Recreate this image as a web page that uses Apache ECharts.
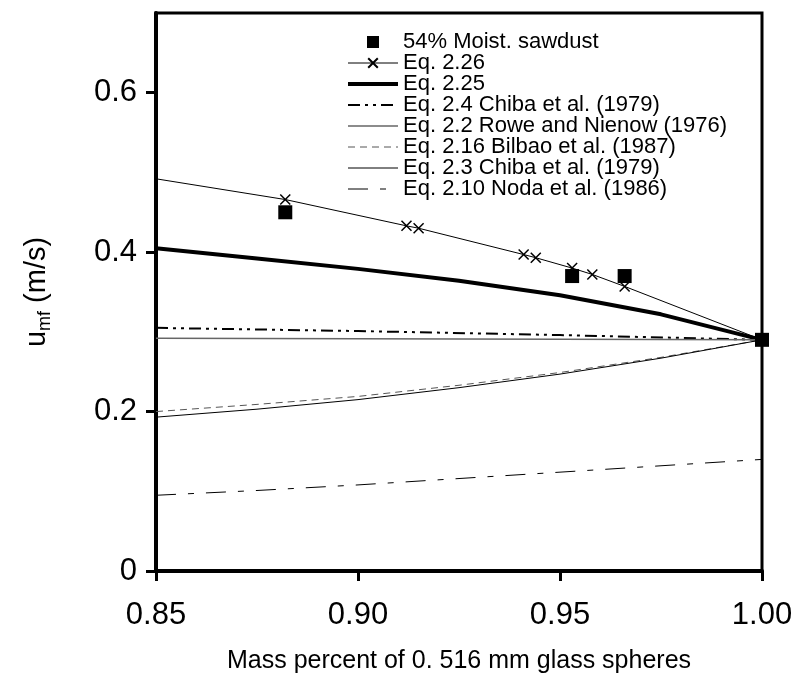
<!DOCTYPE html>
<html>
<head>
<meta charset="utf-8">
<script src="https://cdn.jsdelivr.net/npm/echarts@6/dist/echarts.min.js"></script>
<style>
  html, body { margin: 0; padding: 0; background: #fff; }
  #chart { width: 802px; height: 679px; }
</style>
</head>
<body>
<div id="chart"></div>
<script>
// measured points (54% moist sawdust)
const sawdust = [[0.882, 0.45], [0.953, 0.37], [0.966, 0.37], [1.0, 0.29]];

// model curves
const eq226 = [[0.85, 0.492], [0.882, 0.466], [0.912, 0.433], [0.915, 0.43], [0.941, 0.397],
  [0.944, 0.393], [0.953, 0.38], [0.958, 0.372], [0.966, 0.357], [1.0, 0.29]];
const eq225 = [[0.85, 0.405], [0.875, 0.392], [0.9, 0.379], [0.925, 0.364], [0.95, 0.346], [0.975, 0.322], [1.0, 0.29]];
const eq24 = [[0.85, 0.305], [0.9, 0.301], [0.95, 0.296], [1.0, 0.29]];
const eq22 = [[0.85, 0.292], [0.925, 0.291], [1.0, 0.29]];
const eq216 = [[0.85, 0.2], [0.875, 0.209], [0.9, 0.219], [0.925, 0.233], [0.95, 0.249], [0.975, 0.268], [1.0, 0.29]];
const eq23 = [[0.85, 0.193], [0.875, 0.203], [0.9, 0.215], [0.925, 0.23], [0.95, 0.247], [0.975, 0.267], [1.0, 0.29]];
const eq210 = [[0.85, 0.095], [0.875, 0.101], [0.9, 0.108], [0.925, 0.116], [0.95, 0.124], [0.975, 0.132], [1.0, 0.14]];

// 2.26 only has markers at the computed points, not at the ends
const crossIdx = [1, 2, 3, 4, 5, 6, 7, 8];

const yTicks = [0, 0.2, 0.4, 0.6];

const FONT = "'Liberation Sans', Arial, sans-serif";
const CROSS = "path://M0,0L10,10M10,0L0,10";

const chart = echarts.init(document.getElementById("chart"), null, { renderer: "canvas" });

const lineSeries = (name, data, lineStyle) => ({
  name,
  type: "line",
  data,
  symbol: "none",
  lineStyle,
  itemStyle: { color: lineStyle.color },
  z: 3,
});

// legend samples: line width per entry (legend would force 2px otherwise)
const legendLine = (name, width) => ({ name, lineStyle: { width } });

chart.setOption({
  animation: false,
  textStyle: { fontFamily: FONT },
  grid: {
    left: 156, right: 40, top: 13, bottom: 107,
    show: true, borderColor: "#000", borderWidth: 3,
  },
  // legend: plain line samples, symbols only for the data points and eq 2.26
  legend: {
    orient: "vertical",
    left: 341, top: 26,
    itemWidth: 50, itemHeight: 12, itemGap: -1,
    itemStyle: { opacity: 0 },
    textStyle: { fontSize: 22, lineHeight: 20, color: "#000", fontFamily: FONT },
    data: [
      { name: "54% Moist. sawdust", icon: "path://M0,0h10v10h-10z", itemStyle: { opacity: 1 } },
      { name: "Eq. 2.26", itemStyle: { opacity: 1 }, lineStyle: { width: 1 } },
      legendLine("Eq. 2.25", 4),
      legendLine("Eq. 2.4 Chiba et al. (1979)", 2),
      legendLine("Eq. 2.2 Rowe and Nienow (1976)", 1.5),
      legendLine("Eq. 2.16 Bilbao et al. (1987)", 1),
      legendLine("Eq. 2.3 Chiba et al. (1979)", 1),
      legendLine("Eq. 2.10 Noda et al. (1986)", 1),
    ],
  },
  xAxis: {
    type: "value",
    min: 0.85, max: 1.0, interval: 0.05,
    name: "Mass percent of 0. 516 mm glass spheres",
    nameLocation: "middle", nameGap: 78,
    nameTextStyle: { fontSize: 25, color: "#000", fontFamily: FONT },
    axisLine: { show: true, lineStyle: { color: "#000", width: 4 } },
    axisTick: { show: true, length: 10, lineStyle: { color: "#000", width: 3 } },
    axisLabel: { fontSize: 31, color: "#000", margin: 29, formatter: v => v.toFixed(2) },
    splitLine: { show: false },
  },
  yAxis: {
    type: "value",
    min: 0, max: 0.7,
    name: "{u|u}{s|mf}{u| (m/s)}",
    nameLocation: "middle", nameGap: 102, nameRotate: 90,
    nameTextStyle: {
      color: "#000", fontFamily: FONT,
      rich: {
        u: { fontSize: 29, lineHeight: 34, verticalAlign: "middle", color: "#000", fontFamily: FONT },
        s: { fontSize: 18, lineHeight: 34, verticalAlign: "bottom", padding: [12, 0, 0, 0], color: "#000", fontFamily: FONT },
      },
    },
    axisLine: { show: true, lineStyle: { color: "#000", width: 4 } },
    axisTick: { show: true, length: 10, customValues: yTicks, lineStyle: { color: "#000", width: 3 } },
    axisLabel: { fontSize: 31, color: "#000", margin: 19, customValues: yTicks, formatter: v => String(v) },
    splitLine: { show: false },
  },
  series: [
    {
      name: "54% Moist. sawdust",
      type: "scatter",
      data: sawdust,
      symbol: "rect",
      symbolSize: 14,
      clip: false,
      itemStyle: { color: "#000", opacity: 1 },
      z: 5,
    },
    {
      name: "Eq. 2.26",
      type: "line",
      data: eq226.map((p, i) => (crossIdx.includes(i) ? p : { value: p, symbol: "none" })),
      symbol: CROSS,
      symbolSize: 10,
      showAllSymbol: true,
      lineStyle: { color: "#000", width: 1 },
      itemStyle: { color: "#000", borderColor: "#000", borderWidth: 1.5 },
      z: 4,
    },
    lineSeries("Eq. 2.25", eq225, { color: "#000", width: 4 }),
    lineSeries("Eq. 2.4 Chiba et al. (1979)", eq24, { color: "#000", width: 2, type: [12, 5, 3, 5, 3, 5] }),
    lineSeries("Eq. 2.2 Rowe and Nienow (1976)", eq22, { color: "#666", width: 1.5 }),
    lineSeries("Eq. 2.16 Bilbao et al. (1987)", eq216, { color: "#555", width: 1, type: [7, 5] }),
    lineSeries("Eq. 2.3 Chiba et al. (1979)", eq23, { color: "#000", width: 1 }),
    lineSeries("Eq. 2.10 Noda et al. (1986)", eq210, { color: "#000", width: 1, type: [20, 12, 6, 12] }),
  ],
});
</script>
</body>
</html>
